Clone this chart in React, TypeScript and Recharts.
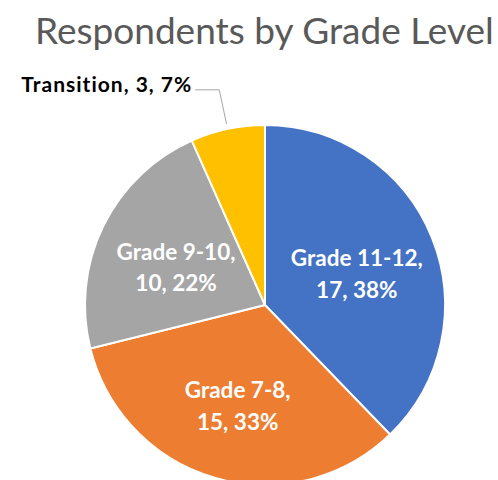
import { PieChart, Pie, Cell } from 'recharts';

document.body.style.margin = '0';

// ─── Data ─────────────────────────────────────────────────────────────────────

const GRADES = ['Grade 11-12', 'Grade 7-8', 'Grade 9-10', 'Transition'];
const COUNTS = [17, 15, 10, 3];
const COLORS = ['#4472C4', '#ED7D31', '#A5A5A5', '#FFC000'];

const data = GRADES.map((name, i) => ({ name, value: COUNTS[i] }));

const RAD = Math.PI / 180;
const FONT = 'Lato, "Noto Sans", sans-serif';

// ─── Labels ───────────────────────────────────────────────────────────────────

function renderLabel(props: any) {
    const { cx, cy, midAngle, outerRadius, percent, name, value } = props;
    const pct = `${Math.round(percent * 100)}%`;
    const cos = Math.cos(-midAngle * RAD);
    const sin = Math.sin(-midAngle * RAD);

    if (percent < 0.1) {
        // small slice: label outside with a leader line
        const sx = cx + (outerRadius + 5) * cos;
        const sy = cy + (outerRadius + 5) * sin;
        const ex = cx + (outerRadius + 40) * cos;
        const ey = cy + (outerRadius + 40) * sin;
        const hx = ex - 24;
        return (
            <g>
                <polyline points={`${sx},${sy} ${ex},${ey} ${hx},${ey}`} fill="none" stroke="#A6A6A6" strokeWidth={1} />
                <text x={hx - 3} y={ey + 2} textAnchor="end" fill="#000" fontFamily={FONT}
                    fontWeight={700} fontSize={21} letterSpacing={1}>
                    {`${name}, ${value}, ${pct}`}
                </text>
            </g>
        );
    }

    const r = outerRadius * 0.55;
    const x = cx + r * cos;
    const y = cy + r * sin;
    return (
        <text x={x} y={y} textAnchor="middle" fill="#fff" fontFamily={FONT} fontWeight={700} fontSize={22.5}>
            <tspan x={x} dy="-0.08em">{`${name},`}</tspan>
            <tspan x={x} dy="1.4em">{`${value}, ${pct}`}</tspan>
        </text>
    );
}

// ─── Component ────────────────────────────────────────────────────────────────

export default function App() {
    return (
        <div style={{ position: 'relative', width: 498, height: 480, background: '#fff', overflow: 'hidden' }}>
            <div style={{
                position: 'absolute', top: 7, left: 35, fontFamily: FONT, fontSize: 37,
                color: '#595959', whiteSpace: 'nowrap', lineHeight: 'normal',
            }}>
                Respondents by Grade Level
            </div>
            <PieChart width={498} height={480} margin={{ top: 0, right: 0, bottom: 0, left: 0 }}>
                <Pie
                    data={data}
                    dataKey="value"
                    nameKey="name"
                    cx={265}
                    cy={305}
                    outerRadius={180}
                    startAngle={90}
                    endAngle={-270}
                    stroke="#fff"
                    strokeWidth={2}
                    label={renderLabel}
                    labelLine={false}
                    isAnimationActive={false}
                >
                    {data.map((d, i) => <Cell key={d.name} fill={COLORS[i]} />)}
                </Pie>
            </PieChart>
        </div>
    );
}
